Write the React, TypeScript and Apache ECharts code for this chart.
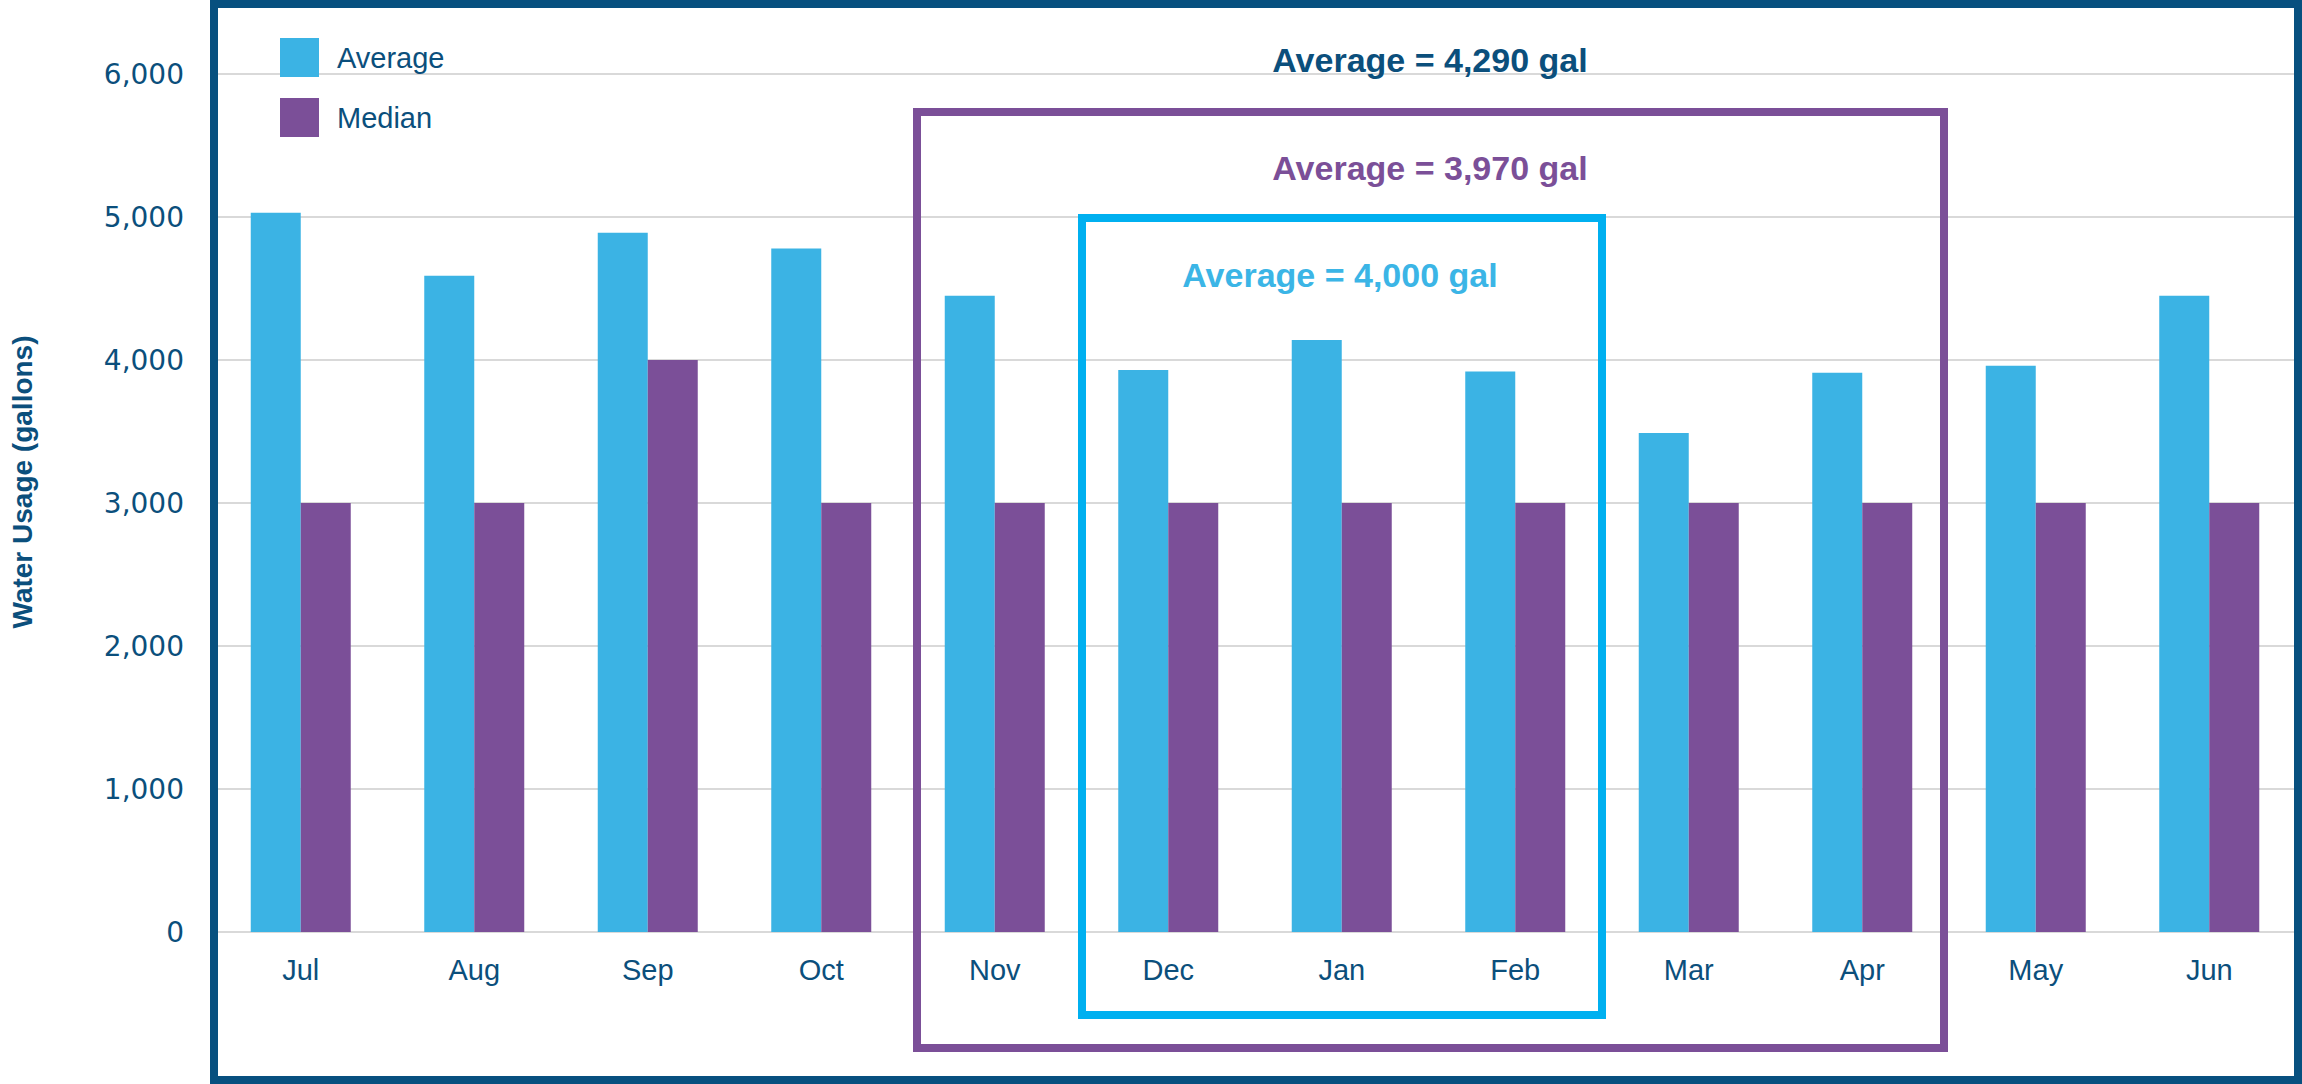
import React, { useEffect, useRef } from "react";
import * as echarts from "echarts";

const months = ["Jul", "Aug", "Sep", "Oct", "Nov", "Dec", "Jan", "Feb", "Mar", "Apr", "May", "Jun"];
const averageUsage = [5030, 4590, 4890, 4780, 4450, 3930, 4140, 3920, 3490, 3910, 3960, 4450];
const medianUsage = [3000, 3000, 4000, 3000, 3000, 3000, 3000, 3000, 3000, 3000, 3000, 3000];
const yTicks = { min: 0, max: 6000, interval: 1000 };
const annotations = [
  { text: "Average = 4,290 gal", color: "#0B4F7C" },
  { text: "Average = 3,970 gal", color: "#7B4F98" },
  { text: "Average = 4,000 gal", color: "#3BB5E6" },
];

const DARK = "#0B4F7C";
const BLUE = "#3BB3E4";
const PURPLE = "#7B4F98";

export default function App() {
  const ref = useRef<HTMLDivElement>(null);
  useEffect(() => {
    if (!ref.current) return;
    const chart = echarts.init(ref.current, undefined, { renderer: "svg" });
    chart.setOption({
      animation: false,
      backgroundColor: "#ffffff",
      grid: { left: 214, right: 6, top: 74, bottom: 152, containLabel: false },
      legend: {
        orient: "vertical",
        left: 275,
        top: 33,
        icon: "rect",
        itemWidth: 39,
        itemHeight: 39,
        itemGap: 21,
        textStyle: { fontSize: 29, color: DARK, fontFamily: "Liberation Sans, Arial, sans-serif", padding: [0, 0, 0, 13] },
        data: ["Average", "Median"],
      },
      xAxis: {
        type: "category",
        data: months,
        axisLine: { show: true, lineStyle: { color: "#D9D9D9", width: 2 } },
        axisTick: { show: false },
        axisLabel: { color: DARK, fontSize: 29, margin: 23, fontFamily: "Liberation Sans, Arial, sans-serif" },
      },
      yAxis: {
        type: "value",
        min: yTicks.min,
        max: yTicks.max,
        interval: yTicks.interval,
        axisLine: { show: false },
        axisTick: { show: false },
        splitLine: { lineStyle: { color: "#D9D9D9", width: 2 } },
        axisLabel: {
          color: DARK,
          fontSize: 28,
          margin: 30,
          fontFamily: "DejaVu Sans, sans-serif",
          formatter: (v: number) => v.toLocaleString("en-US"),
        },
      },
      series: [
        {
          name: "Average",
          type: "bar",
          data: averageUsage,
          barWidth: 50,
          barGap: "0%",
          itemStyle: { color: BLUE },
        },
        {
          name: "Median",
          type: "bar",
          data: medianUsage,
          barWidth: 50,
          barGap: "0%",
          itemStyle: { color: PURPLE },
        },
      ],
      graphic: [
        {
          type: "rect",
          z: 100,
          shape: { x: 214, y: 4, width: 2084, height: 1076 },
          style: { fill: "none", stroke: "#07507F", lineWidth: 8 },
        },
        {
          type: "rect",
          z: 90,
          shape: { x: 917, y: 112, width: 1027, height: 936 },
          style: { fill: "none", stroke: PURPLE, lineWidth: 8 },
        },
        {
          type: "rect",
          z: 90,
          shape: { x: 1082, y: 218, width: 520, height: 797 },
          style: { fill: "none", stroke: "#00B0F0", lineWidth: 8 },
        },
        {
          type: "text",
          z: 95,
          x: 1430,
          y: 60,
          style: {
            text: annotations[0].text,
            fill: annotations[0].color,
            fontSize: 34,
            fontWeight: "bold",
            fontFamily: "Liberation Sans, Arial, sans-serif",
            align: "center",
            verticalAlign: "middle",
          },
        },
        {
          type: "text",
          z: 95,
          x: 1430,
          y: 168,
          style: {
            text: annotations[1].text,
            fill: annotations[1].color,
            fontSize: 34,
            fontWeight: "bold",
            fontFamily: "Liberation Sans, Arial, sans-serif",
            align: "center",
            verticalAlign: "middle",
          },
        },
        {
          type: "text",
          z: 95,
          x: 1340,
          y: 275,
          style: {
            text: annotations[2].text,
            fill: annotations[2].color,
            fontSize: 34,
            fontWeight: "bold",
            fontFamily: "Liberation Sans, Arial, sans-serif",
            align: "center",
            verticalAlign: "middle",
          },
        },
        {
          type: "text",
          z: 95,
          x: 22,
          y: 482,
          rotation: Math.PI / 2,
          style: {
            text: "Water Usage (gallons)",
            fill: DARK,
            fontSize: 28,
            fontWeight: "bold",
            fontFamily: "Liberation Sans, Arial, sans-serif",
            align: "center",
            verticalAlign: "middle",
          },
        },
      ],
    });
    return () => chart.dispose();
  }, []);
  return (
    <div
      ref={ref}
      style={{ position: "fixed", left: 0, top: 0, width: 2302, height: 1084, background: "#fff" }}
    />
  );
}
